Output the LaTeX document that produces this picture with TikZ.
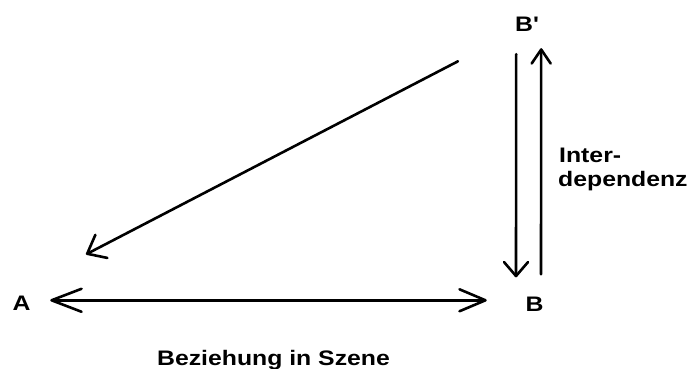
\documentclass[tikz,border=0pt]{standalone}
\usepackage{fontspec}
\newfontfamily\labfont[FakeStretch=1.18]{Liberation Sans Bold}
\usetikzlibrary{arrows.meta}
\begin{document}
\begin{tikzpicture}[x=1pt,y=-1pt,
  lbl/.style={font=\labfont\fontsize{21}{24}\selectfont, inner sep=0pt, text=black},
  conn/.style={line width=2.6pt, line cap=round, line join=round, black},
]
\useasboundingbox[fill=white] (0,0) rectangle (696,369);
\node[lbl, anchor=base] (A) at (21.5,310) {A};
\node[lbl, anchor=base] (B) at (534.5,311) {B};
\node[lbl, anchor=base west] (Bp) at (515,32) {B'};
\node[lbl, anchor=base west] (inter) at (559,162) {Inter-};
\node[lbl, anchor=base west] (dep) at (558,186) {dependenz};
\node[lbl, anchor=base] (bez) at (273.5,365) {Beziehung in Szene};

% horizontal double arrow A <-> B
\draw[conn, {Straight Barb[length=30pt,width=23pt,round]}-{Straight Barb[length=26pt,width=22pt,round]},
      shorten <=19.6pt, shorten >=38.6pt]
  ([yshift=2.5pt]A.east) -- ([yshift=3.5pt]B.west);

% diagonal arrow towards A
\draw[conn, -{Straight Barb[length=16pt,width=26pt,round]}]
  ([xshift=-57pt,yshift=-36.5pt]Bp.west) -- ([xshift=64.5pt,yshift=41pt]A.north);

% down arrow B' -> B
\draw[conn, -{Straight Barb[length=14pt,width=24pt,round]}]
  ([xshift=-10.9pt,yshift=-22pt]Bp.south) -- ([xshift=-18.5pt,yshift=19pt]B.north);

% up arrow B -> B'
\draw[conn, -{Straight Barb[length=14pt,width=19pt,round]}]
  ([xshift=6.5pt,yshift=22pt]B.north) -- ([xshift=14.1pt,yshift=-16pt]Bp.south);
\end{tikzpicture}
\end{document}
